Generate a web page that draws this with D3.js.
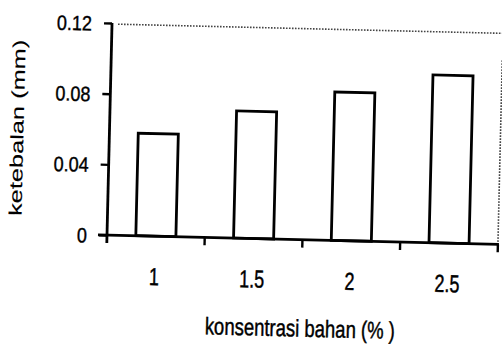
<!DOCTYPE html>
<html><head><meta charset="utf-8">
<script src="https://cdn.jsdelivr.net/npm/d3@7"></script>
<style>body{margin:0;background:#fff}svg{display:block}
text{font-family:"Liberation Sans",Arial,sans-serif;fill:#000;stroke:#000;stroke-width:0.35}</style>
</head><body><svg id="c" width="502" height="346"></svg>
<script>
const categories = ["1", "1.5", "2", "2.5"];
const values = [0.058, 0.072, 0.084, 0.095];
const yTicks = [0, 0.04, 0.08, 0.12];
const yTickLabels = ["0", "0.04", "0.08", "0.12"];
const xTitle = "konsentrasi bahan (% )";
const yTitle = "ketebalan (mm)";

const svg = d3.select("#c");
const L = 107, R = 498, T = 23, B = 235;
// the scanned original is slightly rotated clockwise
const g = svg.append("g").attr("transform", `rotate(1.36,${L},${B})`);

const x = d3.scaleBand().domain(categories).range([L, R]).paddingInner(0.59).paddingOuter(0.295);
const y = d3.scaleLinear().domain([0, 0.12]).range([B, T]);

// dotted frame top and right
g.append("line").attr("x1", L + 6).attr("x2", 505).attr("y1", T + 1).attr("y2", T + 1)
  .attr("stroke", "#444").attr("stroke-width", 1.6).attr("stroke-dasharray", "1.6,1.4");
g.append("line").attr("x1", R).attr("x2", R).attr("y1", 51).attr("y2", B)
  .attr("stroke", "#444").attr("stroke-width", 1.6).attr("stroke-dasharray", "1.6,1.4");

// bars
g.append("g").selectAll("rect").data(values).join("rect")
  .attr("x", (d, i) => x(categories[i]))
  .attr("width", x.bandwidth())
  .attr("y", d => y(d))
  .attr("height", d => B - y(d))
  .attr("fill", "#fff").attr("stroke", "#000").attr("stroke-width", 2.8);

// y axis
const ya = g.append("g").attr("transform", `translate(${L},0)`)
  .call(d3.axisLeft(y).tickValues(yTicks).tickFormat((d, i) => yTickLabels[i]).tickSize(8).tickPadding(12));
ya.select(".domain").attr("stroke", "#000").attr("stroke-width", 2.8).attr("d", `M0,${T}V${B + 8}`);
ya.selectAll(".tick line").attr("stroke", "#000").attr("stroke-width", 2.4);
ya.selectAll(".tick text").attr("font-size", 18).attr("dy", null).attr("y", 0)
  .attr("dominant-baseline", "central").attr("transform", "scale(1,1.15)")
  .style("font-family", '"Liberation Sans",Arial,sans-serif');

// x axis with ticks at category boundaries
const boundaries = d3.range(categories.length + 1).map(i => L + i * (R - L) / categories.length);
const xa = g.append("g").attr("transform", `translate(0,${B})`);
xa.append("line").attr("x1", L - 9).attr("x2", R + 1).attr("y1", 0).attr("y2", 0)
  .attr("stroke", "#000").attr("stroke-width", 2.8);
xa.selectAll("line.tk").data(boundaries.slice(1)).join("line").attr("class", "tk")
  .attr("x1", d => d).attr("x2", d => d).attr("y1", 0).attr("y2", 8)
  .attr("stroke", "#000").attr("stroke-width", 2.4);
xa.selectAll("text").data(categories).join("text")
  .attr("transform", d => `translate(${x(d) + x.bandwidth() / 2 - 1},49) scale(1,1.37)`)
  .attr("text-anchor", "middle").attr("font-size", 18).text(d => d);

// titles
g.append("text").attr("transform", "translate(302,332) scale(1,1.3)").attr("text-anchor", "middle")
  .attr("font-size", 18.5).text(xTitle);
g.append("text").attr("transform", "translate(21,130) scale(1,1.41) rotate(-90)").attr("text-anchor", "middle")
  .attr("font-size", 18).style("stroke-width", 0.1).text(yTitle);
</script></body></html>
